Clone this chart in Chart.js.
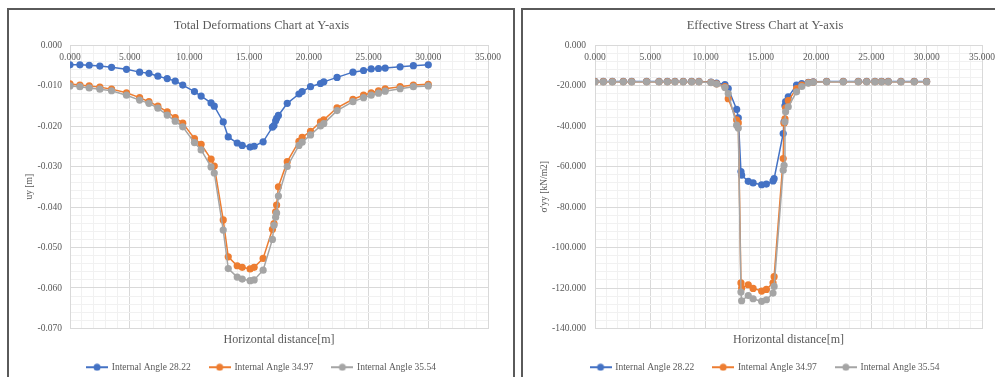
<!DOCTYPE html>
<html>
<head>
<meta charset="utf-8">
<script src="https://cdn.jsdelivr.net/npm/chart.js@4.4.1/dist/chart.umd.min.js"></script>
<style>
  html, body { margin: 0; padding: 0; background: #fff; overflow: hidden; width: 995px; height: 377px; }
  .box { position: absolute; border: 2px solid #5a5a5a; height: 420px; }
  #boxLeft { left: 7px; top: 8px; width: 504px; }
  #boxRight { left: 521px; top: 8px; width: 520px; }
  canvas { position: absolute; }
  #defChart { left: 10px; top: 10px; }
  #stressChart { left: 525px; top: 10px; }
</style>
</head>
<body>
<div class="box" id="boxLeft"></div>
<div class="box" id="boxRight"></div>
<canvas id="defChart" width="503" height="372"></canvas>
<canvas id="stressChart" width="480" height="372"></canvas>
<script>
// ── Data ──
const seriesNames = ['Internal Angle 28.22', 'Internal Angle 34.97', 'Internal Angle 35.54'];
const seriesColors = ['#4472C4', '#ED7D31', '#A5A5A5'];
const xTickLabels = [0, 5, 10, 15, 20, 25, 30, 35];

// Total deformations (uy [m])
const defX = [0.00, 0.83, 1.61, 2.50, 3.48, 4.73, 5.83, 6.61, 7.36, 8.14, 8.81, 9.44,
  10.42, 10.98, 11.81, 12.08, 12.83, 13.25, 14.00, 14.42, 15.08, 15.42, 16.17,
  16.95, 17.08, 17.22, 17.30, 17.45, 18.19, 19.17, 19.44, 20.14, 20.97, 21.25,
  22.36, 23.69, 24.58, 25.22, 25.83, 26.39, 27.64, 28.75, 30.00];
const def2822 = [-0.0049, -0.0049, -0.0050, -0.0052, -0.0055, -0.0060, -0.0067, -0.0070, -0.0077, -0.0083, -0.0089, -0.0099,
  -0.0115, -0.0126, -0.0143, -0.0151, -0.0190, -0.0227, -0.0242, -0.0248, -0.0252, -0.0250, -0.0239,
  -0.0203, -0.0199, -0.0187, -0.0181, -0.0174, -0.0144, -0.0121, -0.0115, -0.0103, -0.0095, -0.0091,
  -0.0080, -0.0067, -0.0063, -0.0059, -0.0058, -0.0057, -0.0054, -0.0051, -0.0049];
const def3497 = [-0.0096, -0.0099, -0.0101, -0.0104, -0.0109, -0.0118, -0.0130, -0.0140, -0.0151, -0.0165, -0.0179, -0.0193,
  -0.0231, -0.0245, -0.0282, -0.0299, -0.0432, -0.0523, -0.0545, -0.0549, -0.0553, -0.0549, -0.0527,
  -0.0455, -0.0441, -0.0412, -0.0395, -0.0350, -0.0288, -0.0238, -0.0228, -0.0213, -0.0190, -0.0185,
  -0.0155, -0.0134, -0.0124, -0.0118, -0.0113, -0.0108, -0.0103, -0.0099, -0.0097];
const def3554 = [-0.0101, -0.0103, -0.0106, -0.0109, -0.0113, -0.0124, -0.0136, -0.0144, -0.0156, -0.0173, -0.0188, -0.0202,
  -0.0241, -0.0259, -0.0301, -0.0316, -0.0457, -0.0552, -0.0573, -0.0578, -0.0582, -0.0580, -0.0556,
  -0.0480, -0.0445, -0.0425, -0.0415, -0.0373, -0.0300, -0.0248, -0.0240, -0.0222, -0.0200, -0.0194,
  -0.0162, -0.0140, -0.0130, -0.0124, -0.0119, -0.0114, -0.0108, -0.0103, -0.0101];

// Effective stress (σ'yy [kN/m2])
const stressX = [0.00, 0.75, 1.57, 2.56, 3.32, 4.67, 5.79, 6.54, 7.23, 7.98, 8.74, 9.40, 10.49, 11.00,
  11.75, 12.05, 12.81, 12.96, 13.20, 13.26, 13.86, 14.30, 15.07, 15.50, 16.10, 16.20,
  17.02, 17.10, 17.18, 17.24, 17.48, 18.23, 18.70, 19.29, 19.74,
  20.95, 22.45, 23.81, 24.57, 25.32, 25.92, 26.52, 27.67, 28.87, 29.99];
const stress2822 = [-18.0, -18.0, -18.0, -18.0, -18.0, -18.0, -18.0, -18.0, -18.0, -18.0, -18.0, -18.0, -18.3, -18.8,
  -19.5, -21.5, -31.8, -36.0, -62.5, -64.3, -67.3, -68.1, -69.0, -68.7, -67.1, -66.0,
  -43.7, -37.9, -30.0, -28.0, -25.6, -19.8, -19.0, -18.4, -18.2,
  -18.0, -18.0, -18.0, -18.0, -18.0, -18.0, -18.0, -18.0, -18.0, -18.0];
const stress3497 = [-18.1, -18.1, -18.1, -18.1, -18.1, -18.1, -18.1, -18.1, -18.1, -18.1, -18.1, -18.1, -18.4, -19.2,
  -20.5, -26.5, -37.0, -38.5, -117.5, -120.0, -118.4, -120.2, -121.5, -120.7, -117.4, -114.4,
  -56.1, -38.7, -36.5, -31.0, -27.5, -21.5, -19.8, -18.6, -18.3,
  -18.1, -18.1, -18.1, -18.1, -18.1, -18.1, -18.1, -18.1, -18.1, -18.1];
const stress3554 = [-18.2, -18.2, -18.2, -18.2, -18.2, -18.2, -18.2, -18.2, -18.2, -18.2, -18.2, -18.2, -18.6, -19.3,
  -21.0, -24.0, -39.6, -41.0, -122.0, -126.3, -123.7, -125.3, -126.6, -125.8, -122.5, -119.2,
  -61.8, -59.4, -37.9, -33.0, -30.5, -23.1, -20.5, -18.8, -18.4,
  -18.2, -18.2, -18.2, -18.2, -18.2, -18.2, -18.2, -18.2, -18.2, -18.2];

// ── Styling helpers ──
const SERIF = '"Liberation Serif", "Times New Roman", serif';
const TEXT = '#595959';
const MAJOR = '#d9d9d9';
const MINOR = '#f1f1f1';

// legend marker: short line with a dot, like Excel
function legendMarker(color) {
  const c = document.createElement('canvas');
  c.width = 22; c.height = 8;
  const g = c.getContext('2d');
  g.strokeStyle = color; g.lineWidth = 2;
  g.beginPath(); g.moveTo(0, 4); g.lineTo(22, 4); g.stroke();
  g.fillStyle = color;
  g.beginPath(); g.arc(11, 4, 3.5, 0, Math.PI * 2); g.fill();
  return c;
}
const markers = seriesColors.map(legendMarker);

// x tick labels sit just under the top edge (axis crosses at y = 0)
const topXLabels = {
  id: 'topXLabels',
  afterDatasetsDraw(chart) {
    const { ctx, chartArea, scales: { x } } = chart;
    ctx.save();
    ctx.font = '9.5px ' + SERIF;
    ctx.fillStyle = TEXT;
    ctx.textAlign = 'center';
    ctx.textBaseline = 'middle';
    xTickLabels.forEach(v => ctx.fillText(v.toFixed(3), x.getPixelForValue(v), chartArea.top + 12));
    ctx.restore();
  }
};

function makeDatasets(xs, ys) {
  return ys.map((vals, i) => ({
    label: seriesNames[i],
    data: xs.map((x, j) => ({ x, y: vals[j] })),
    showLine: true,
    borderColor: seriesColors[i],
    backgroundColor: seriesColors[i],
    borderWidth: 1.5,
    pointRadius: 3.6,
    pointBorderWidth: 0,
    order: 3 - i
  }));
}

function makeChart(id, cfg) {
  return new Chart(document.getElementById(id), {
    type: 'scatter',
    data: { datasets: makeDatasets(cfg.xs, cfg.ys) },
    plugins: [topXLabels],
    options: {
      responsive: false,
      animation: false,
      layout: { padding: 0 },
      scales: {
        x: {
          type: 'linear', min: 0, max: 35,
          ticks: { stepSize: 1, display: false, autoSkip: false },
          grid: { drawTicks: false, color: c => (c.tick && c.tick.value % 5 === 0) ? MAJOR : MINOR },
          border: { color: MAJOR },
          title: { display: true, text: 'Horizontal distance[m]', color: TEXT,
                   font: { family: SERIF, size: 12 }, padding: { top: 0, bottom: -4 } },
          afterFit: s => { s.height = 15; }
        },
        y: {
          type: 'linear', min: cfg.yMin, max: 0,
          ticks: {
            stepSize: cfg.yStep, autoSkip: false, padding: cfg.tickPad, color: TEXT,
            font: { family: SERIF, size: 9.5 },
            callback: cfg.yLabel
          },
          grid: { drawTicks: false, color: c => cfg.isMajor(c.tick.value) ? MAJOR : MINOR },
          border: { color: MAJOR },
          title: { display: true, text: cfg.yTitle, color: TEXT,
                   font: { family: SERIF, size: 9.5 }, padding: { top: 14, bottom: 0 } },
          afterFit: s => { s.width = cfg.yWidth; }
        },
        // empty right-hand spacer so the title and legend stay centred on the whole box
        spacer: {
          type: 'linear', position: 'right', display: true,
          ticks: { display: false }, grid: { display: false }, border: { display: false },
          afterFit: s => { s.width = cfg.padRight; }
        }
      },
      plugins: {
        title: { display: true, text: cfg.title, color: TEXT,
                 font: { family: SERIF, size: 12.5, weight: 'normal' },
                 padding: { top: 8, bottom: 12 } },
        legend: {
          position: 'bottom',
          labels: {
            color: TEXT, font: { family: SERIF, size: 9.5 },
            usePointStyle: true, pointStyleWidth: 20, padding: 19,
            sort: (a, b) => a.datasetIndex - b.datasetIndex,
            generateLabels: chart => Chart.defaults.plugins.legend.labels.generateLabels(chart)
              .map(item => Object.assign(item, { pointStyle: markers[item.datasetIndex] }))
          }
        },
        tooltip: { enabled: false }
      }
    }
  });
}

makeChart('defChart', {
  xs: defX, ys: [def2822, def3497, def3554],
  title: 'Total Deformations Chart at Y-axis', yTitle: 'uy [m]',
  yMin: -0.07, yStep: 0.002, yWidth: 60, tickPad: 8, padRight: 25,
  isMajor: v => Math.round(v * 1000) % 10 === 0,
  yLabel: v => Math.round(v * 1000) % 10 === 0 ? v.toFixed(3) : ''
});

makeChart('stressChart', {
  xs: stressX, ys: [stress2822, stress3497, stress3554],
  title: 'Effective Stress Chart at Y-axis', yTitle: "σ'yy [kN/m2]",
  yMin: -140, yStep: 4, yWidth: 70, tickPad: 9, padRight: 23,
  isMajor: v => Math.round(v) % 20 === 0,
  yLabel: v => Math.round(v) % 20 === 0 ? v.toFixed(3) : ''
});
</script>
</body>
</html>
